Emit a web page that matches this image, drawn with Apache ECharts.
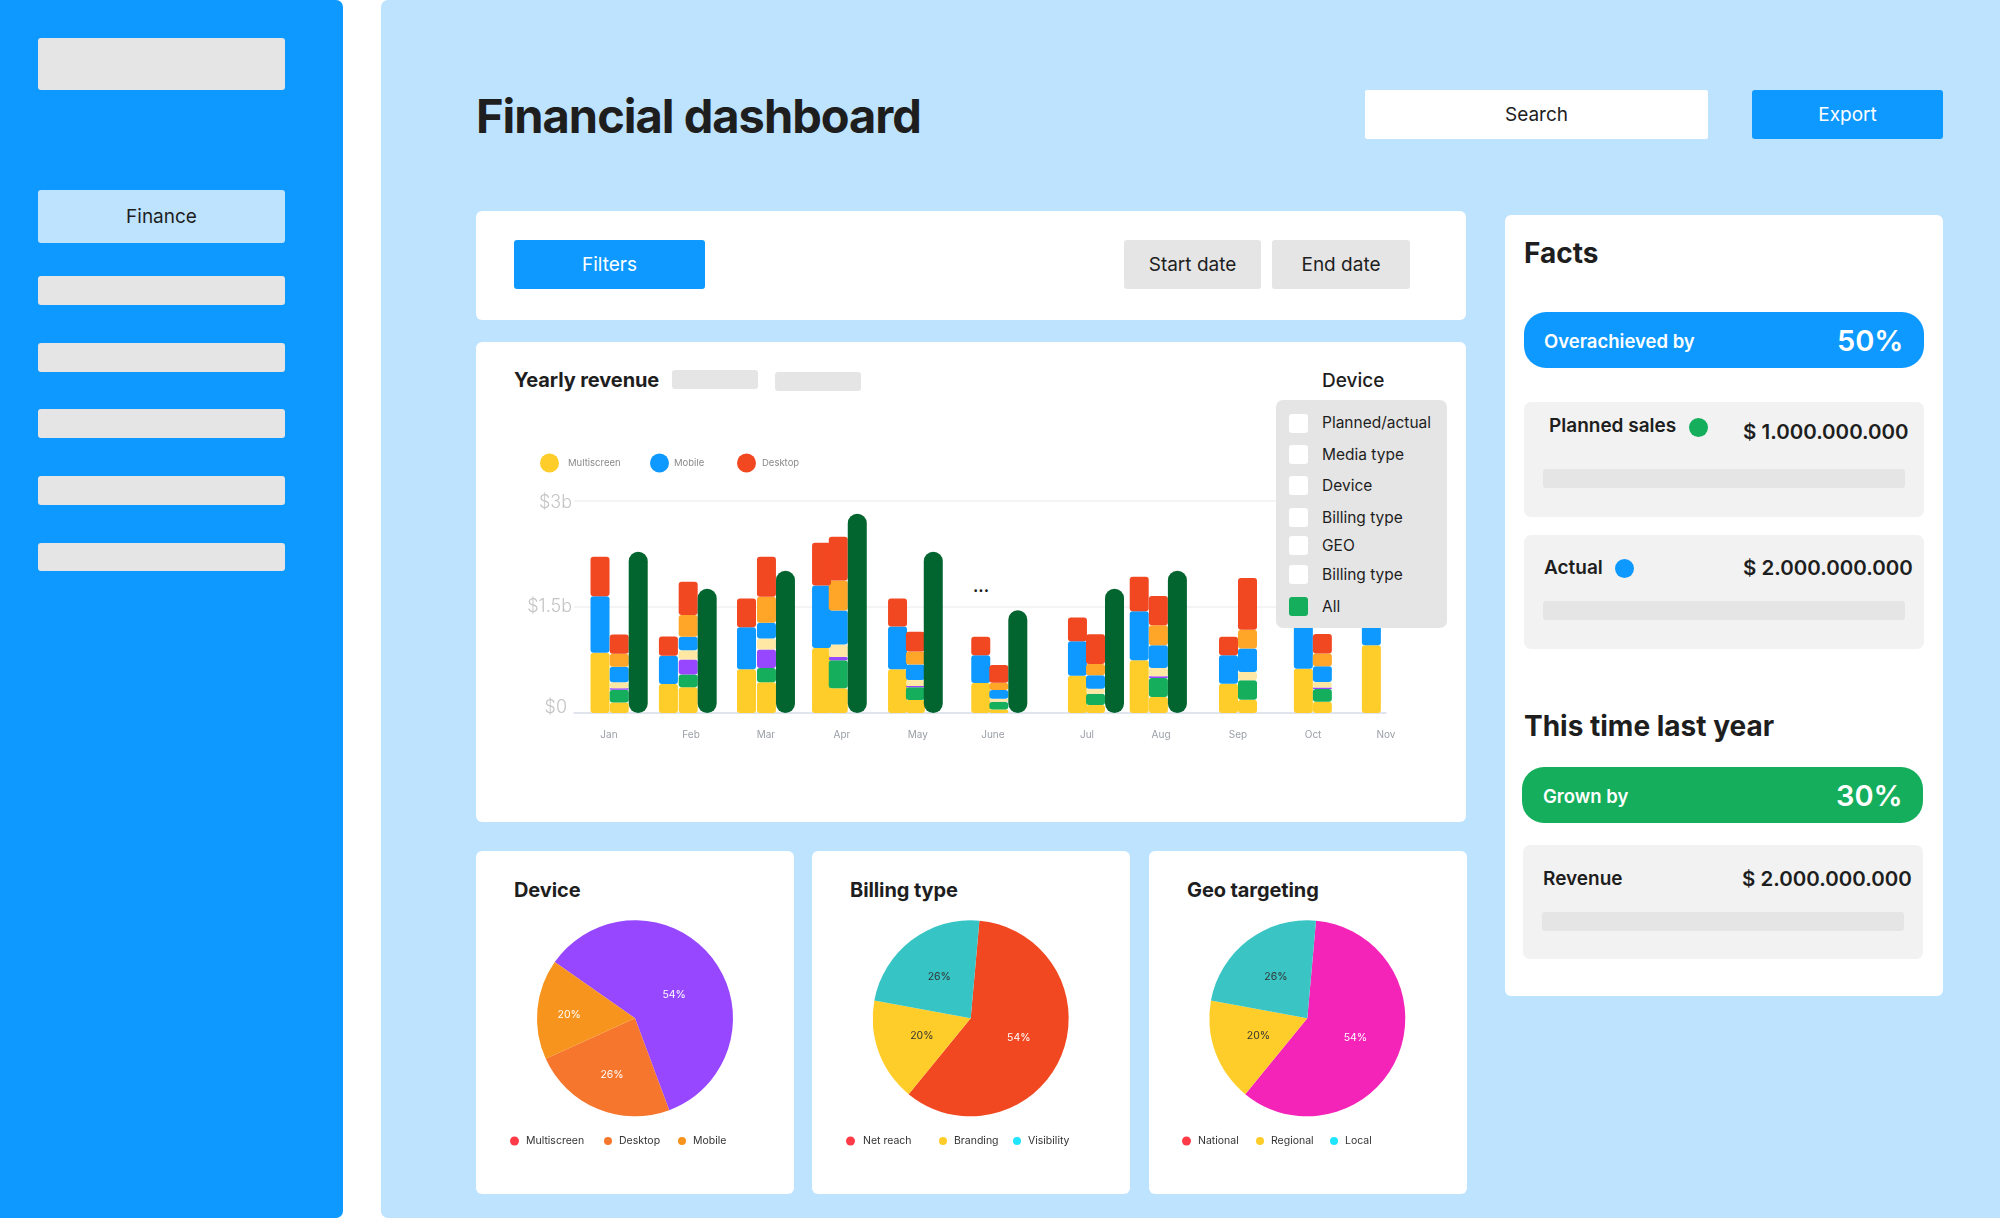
<!DOCTYPE html>
<html lang="en">
<head>
<meta charset="utf-8">
<title>Financial dashboard</title>
<script src="https://cdn.jsdelivr.net/npm/echarts@6/dist/echarts.min.js"></script>
<style>
html,body{margin:0;padding:0;width:2000px;height:1220px;background:#fff;overflow:hidden;font-family:Inter,sans-serif;color:#1e1e1e}
.a{position:absolute;box-sizing:border-box}
.t{position:absolute;white-space:nowrap;line-height:30px;height:30px}
.c{text-align:center}
.card{background:#fff;border-radius:6px}
.g{background:#e5e5e5;border-radius:3px}
.b{background:#0d99ff;border-radius:3px}
.soft{background:#f2f2f2;border-radius:7px}
.cb{position:absolute;left:1289px;width:19px;height:19px;background:#fff;border-radius:3px}
.li{font-size:15.5px;left:1322px}
.h3{font-size:20px;font-weight:650;letter-spacing:-.1px}
.amt{font-size:20.5px;font-weight:600;left:1743px}
.dot{position:absolute;width:19px;height:19px;border-radius:50%}
.pill{border-radius:22px}
#chart{position:absolute;left:0;top:0;width:2000px;height:1220px}
</style>
</head>
<body>
<div class="a" style="left:0;top:0;width:343px;height:1218px;background:#0d99ff;border-radius:0 7px 7px 0"></div>
<div class="a" style="left:381px;top:0;width:1619px;height:1218px;background:#bde3ff;border-radius:7px 0 0 7px"></div>

<div class="a g" style="left:38px;top:38px;width:247px;height:52px"></div>
<div class="a c" style="left:38px;top:190px;width:247px;height:53px;background:#bde3ff;border-radius:3px;line-height:53px;font-size:19px">Finance</div>
<div class="a g" style="left:38px;top:276px;width:247px;height:29px"></div>
<div class="a g" style="left:38px;top:343px;width:247px;height:29px"></div>
<div class="a g" style="left:38px;top:409px;width:247px;height:29px"></div>
<div class="a g" style="left:38px;top:476px;width:247px;height:29px"></div>
<div class="a g" style="left:38px;top:543px;width:247px;height:28px"></div>

<div class="t" style="left:476px;top:86px;height:60px;line-height:60px;font-size:47px;font-weight:700;letter-spacing:-1px">Financial dashboard</div>
<div class="a c" style="left:1365px;top:90px;width:343px;height:49px;background:#fff;border-radius:2px;line-height:49px;font-size:19px">Search</div>
<div class="a b c" style="left:1752px;top:90px;width:191px;height:49px;line-height:49px;font-size:19px;color:#fff">Export</div>

<div class="a card" style="left:476px;top:211px;width:990px;height:109px"></div>
<div class="a b c" style="left:514px;top:240px;width:191px;height:49px;line-height:49px;font-size:19px;color:#fff">Filters</div>
<div class="a g c" style="left:1124px;top:240px;width:137px;height:49px;line-height:49px;font-size:19px">Start date</div>
<div class="a g c" style="left:1272px;top:240px;width:138px;height:49px;line-height:49px;font-size:19px">End date</div>

<div class="a card" style="left:476px;top:342px;width:990px;height:480px"></div>
<div class="t h3" style="left:514px;top:365px">Yearly revenue</div>
<div class="a g" style="left:672px;top:370px;width:86px;height:19px"></div>
<div class="a g" style="left:775px;top:372px;width:86px;height:19px"></div>
<div class="t" style="left:1322px;top:366px;font-size:19px;font-weight:500">Device</div>
<div class="t" style="left:973px;top:571px;font-size:16px;font-weight:700">...</div>

<div class="a card" style="left:476px;top:851px;width:318px;height:343px"></div>
<div class="a card" style="left:812px;top:851px;width:318px;height:343px"></div>
<div class="a card" style="left:1149px;top:851px;width:318px;height:343px"></div>
<div class="t h3" style="left:514px;top:875px">Device</div>
<div class="t h3" style="left:850px;top:875px">Billing type</div>
<div class="t h3" style="left:1187px;top:875px">Geo targeting</div>

<div class="a card" style="left:1505px;top:215px;width:438px;height:781px"></div>
<div class="t" style="left:1524px;top:238px;font-size:28px;font-weight:700">Facts</div>
<div class="a b pill" style="left:1524px;top:312px;width:400px;height:56px"></div>
<div class="t" style="left:1544px;top:326px;font-size:18.5px;font-weight:600;color:#fff">Overachieved by</div>
<div class="t" style="left:1837px;top:326px;font-size:29px;font-weight:600;color:#fff">50%</div>
<div class="a soft" style="left:1524px;top:402px;width:400px;height:115px"></div>
<div class="t" style="left:1549px;top:411px;font-size:19px;font-weight:600">Planned sales</div>
<div class="dot" style="left:1689px;top:418px;background:#14ae5c"></div>
<div class="t amt" style="top:417px">$ 1.000.000.000</div>
<div class="a g" style="left:1543px;top:469px;width:362px;height:19px"></div>
<div class="a soft" style="left:1524px;top:535px;width:400px;height:114px"></div>
<div class="t" style="left:1544px;top:553px;font-size:19px;font-weight:600">Actual</div>
<div class="dot" style="left:1615px;top:559px;background:#0d99ff"></div>
<div class="t amt" style="top:553px">$ 2.000.000.000</div>
<div class="a g" style="left:1543px;top:601px;width:362px;height:19px"></div>

<div class="t" style="left:1524px;top:711px;font-size:28px;font-weight:700">This time last year</div>
<div class="a pill" style="left:1522px;top:767px;width:401px;height:56px;background:#14ae5c"></div>
<div class="t" style="left:1543px;top:781px;font-size:18.5px;font-weight:600;color:#fff">Grown by</div>
<div class="t" style="left:1836px;top:781px;font-size:29px;font-weight:600;color:#fff">30%</div>
<div class="a soft" style="left:1523px;top:845px;width:400px;height:114px"></div>
<div class="t" style="left:1543px;top:864px;font-size:19px;font-weight:600">Revenue</div>
<div class="t amt" style="left:1742px;top:864px">$ 2.000.000.000</div>
<div class="a g" style="left:1542px;top:912px;width:362px;height:19px"></div>

<div id="chart"></div>

<div class="a" style="left:1276px;top:400px;width:171px;height:228px;background:#e5e5e5;border-radius:7px;z-index:5"></div>
<div style="position:absolute;left:0;top:0;z-index:6">
<div class="cb" style="top:414px"></div><div class="t li" style="top:408px">Planned/actual</div>
<div class="cb" style="top:445px"></div><div class="t li" style="top:440px">Media type</div>
<div class="cb" style="top:476px"></div><div class="t li" style="top:471px">Device</div>
<div class="cb" style="top:508px"></div><div class="t li" style="top:503px">Billing type</div>
<div class="cb" style="top:536px"></div><div class="t li" style="top:531px">GEO</div>
<div class="cb" style="top:565px"></div><div class="t li" style="top:560px">Billing type</div>
<div class="cb" style="top:597px;background:#14ae5c"></div><div class="t li" style="top:592px">All</div>
</div>

<script>
// Tick labels
const months = ['Jan','Feb','Mar','Apr','May','June','Jul','Aug','Sep','Oct','Nov'];
const valueTicks = [0, 1.5, 3];
// Month label place on the slot scale of the x axis
const monthSlots = [1.84,6.16,10.1,14.1,18.1,22.05,27.0,30.9,34.95,38.9,42.74];
// Column place on the slot scale: three columns a month up to Aug, then two, then one
const columnSlots = [
  1.37,2.38,3.38, 4.97,6.01,7.01, 9.08,10.13,11.13, 13.03,13.91,14.91,
  17.03,17.97,18.91, 21.41,22.36,23.36, 26.5,27.45,28.45, 29.75,30.76,31.76,
  34.45,35.45, 38.39,39.39, 41.97
];
// Values in $ billions, bottom of stack first
const multiscreen = [.85,.15,null, .41,.363,null, .618,.434,null, .92,.349,null, .618,.184,null, .425,.05,null, .528,.113,null, .745,.226,null, .415,.189, .627,.16, .958];
const reach       = [null,.18,null, null,.18,null, null,.203,null, null,.396,null, null,.18,null, null,.104,null, null,.16,null, null,.269,null, null,.274, null,.18, null];
const violet      = [null,.02,null, null,.212,null, null,.26,null, null,.047,null, null,.019,null, null,.005,null, null,null,null, null,.024,null, null,null, null,.019, null];
const cream       = [null,.085,null, null,.132,null, null,.156,null, null,.175,null, null,.085,null, null,.042,null, null,.07,null, null,.118,null, null,.118, null,.08, null];
const mobile      = [.80,.217,null, .40,.19,null, .594,.222,null, .882,.481,null, .604,.217,null, .39,.123,null, .486,.189,null, .693,.32,null, .40,.33, .70,.222, .90];
const amber       = [null,.184,null, null,.307,null, null,.368,null, null,.425,null, null,.184,null, null,.104,null, null,.16,null, null,.283,null, null,.264, null,.18, null];
const desktop     = [.557,.274,null, .27,.472,null, .406,.566,null, .604,.618,null, .396,.278,null, .264,.25,null, .335,.42,null, .486,.415,null, .264,.731, .42,.274, .60];
const total       = [null,null,2.28, null,null,1.755, null,null,2.01, null,null,2.816, null,null,2.28, null,null,1.453, null,null,1.755, null,null,2.01, null,null, null,null, null];

const deviceNames = ['Multiscreen','Desktop','Mobile'];
const deviceShares = [59.6,23.9,16.5];
const deviceLabels = ['54%','26%','20%'];
const billingNames = ['Net reach','Branding','Visibility'];
const billingShares = [59.5,17.0,23.5];
const billingLabels = ['54%','20%','26%'];
const geoNames = ['National','Regional','Local'];
const geoShares = [59.5,17.0,23.5];
const geoLabels = ['54%','20%','26%'];

const FONT = 'Inter';
const barSeries = [
  ['Multiscreen', multiscreen, '#ffcd29', 3],
  ['Reach', reach, '#14ae5c', 3],
  ['Violet', violet, '#9747ff', 3],
  ['Cream', cream, '#ffe8a3', 3],
  ['Mobile', mobile, '#0d99ff', 3],
  ['Amber', amber, '#ffa629', 3],
  ['Desktop', desktop, '#f24822', 3],
  ['Total', total, '#02652f', 9.5]
].map(([name, vals, color, r]) => ({
  name, type: 'bar', stack: 'all', barWidth: 19,
  dimensions: ['value', 'slot'],
  encode: {x: 'slot', y: 'value'},
  data: vals.map((v, i) => [v, columnSlots[i]]),
  itemStyle: {color, borderRadius: r},
  silent: true, animation: false
}));

function pie(cx, names, shares, labels, colors, labelColors, startAngle, nudges) {
  return {
    type: 'pie', center: [cx, 1018.3], radius: [0, 98], startAngle, clockwise: true,
    silent: true, animation: false, avoidLabelOverlap: false, labelLine: {show: false},
    data: names.map((n, i) => ({
      name: n, value: shares[i],
      itemStyle: {color: colors[i]},
      label: {show: true, position: 'inside', formatter: labels[i], color: labelColors[i],
        fontFamily: FONT, fontSize: 10.5, offset: nudges[i]}
    }))
  };
}
function legendOne(name, dotColor, left, dot, pad) {
  return {
    data: [{name, itemStyle: {color: dotColor}}], left, top: 1143.5 - 8, padding: 0,
    icon: 'circle', itemWidth: dot, itemHeight: dot, selectedMode: false,
    textStyle: {fontFamily: FONT, fontSize: 10.5, color: '#333', padding: [0, 0, 0, pad]},
    height: 16
  };
}
function barLegend(name, color, left, pad) {
  return {
    data: [{name, itemStyle: {color}}], left, top: 453.5, padding: 0,
    icon: 'circle', itemWidth: 19, itemHeight: 19, selectedMode: false,
    textStyle: {fontFamily: FONT, fontSize: 9.5, color: '#8a8a8a', padding: [0, 0, 0, pad]}
  };
}

const option = {
  backgroundColor: 'transparent',
  animation: false,
  textStyle: {fontFamily: FONT},
  legend: [
    barLegend('Multiscreen', '#ffcd29', 540, 4),
    barLegend('Mobile', '#0d99ff', 650, 0),
    barLegend('Desktop', '#f24822', 737, 1),
    legendOne('Multiscreen', '#ff3b47', 510, 9, 2), legendOne('Desktop', '#f5762c', 604, 8, 2), legendOne('Mobile', '#f7941d', 678, 8, 2),
    legendOne('Net reach', '#ff3b47', 846, 9, 3), legendOne('Branding', '#ffcd29', 939, 8, 2), legendOne('Visibility', '#1fe5ff', 1013, 8, 2),
    legendOne('National', '#ff3b47', 1182, 9, 2), legendOne('Regional', '#ffcd29', 1256, 8, 2), legendOne('Local', '#1fe5ff', 1330, 8, 2)
  ],
  grid: {left: 574, top: 500.7, width: 812, height: 212.3, containLabel: false},
  xAxis: {
    type: 'value', min: 0, max: 42.74,
    splitLine: {show: false}, axisTick: {show: false},
    axisLine: {show: true, onZero: false, lineStyle: {color: '#d7deea', width: 1.5}},
    axisLabel: {
      customValues: monthSlots, margin: 17, fontSize: 10, color: '#9a9ea6', fontFamily: FONT,
      hideOverlap: false, showMinLabel: true, showMaxLabel: true,
      formatter: v => months[monthSlots.indexOf(v)] || ''
    }
  },
  yAxis: {
    type: 'value', min: valueTicks[0], max: valueTicks[2], interval: valueTicks[1],
    axisLine: {show: false}, axisTick: {show: false},
    splitLine: {lineStyle: {color: '#f0f0f0', width: 1.5}},
    axisLabel: {
      margin: 2, fontSize: 18, fontWeight: 300, color: '#c4c4c4', fontFamily: FONT,
      formatter: v => v === 0 ? '{z|$0}' : v === 3 ? '{t|$3b}' : '$1.5b',
      rich: {
        z: {fontSize: 18, fontWeight: 300, color: '#c4c4c4', fontFamily: FONT, padding: [0, 5, 10, 0]},
        t: {fontSize: 18, fontWeight: 300, color: '#c4c4c4', fontFamily: FONT, padding: [4, 0, 0, 0]}
      }
    }
  },
  series: barSeries.concat([
    pie(635, deviceNames, deviceShares, deviceLabels, ['#9747ff','#f5762c','#f7941d'], ['#fff','#fff','#fff'], 145,
      [[-2,8],[-3,9],[-14,1]]),
    pie(970.7, billingNames, billingShares, billingLabels, ['#f24822','#ffcd29','#36c4c4'], ['#fff','#333','#333'], 84.9,
      [[0,0],[0,0],[0,0]]),
    pie(1307.3, geoNames, geoShares, geoLabels, ['#f424b9','#ffcd29','#3ac4c4'], ['#fff','#333','#333'], 84.9,
      [[0,0],[0,0],[0,0]])
  ])
};
const chart = echarts.init(document.getElementById('chart'), null, {renderer: 'canvas', width: 2000, height: 1220});
chart.setOption(option);
</script>
</body>
</html>
